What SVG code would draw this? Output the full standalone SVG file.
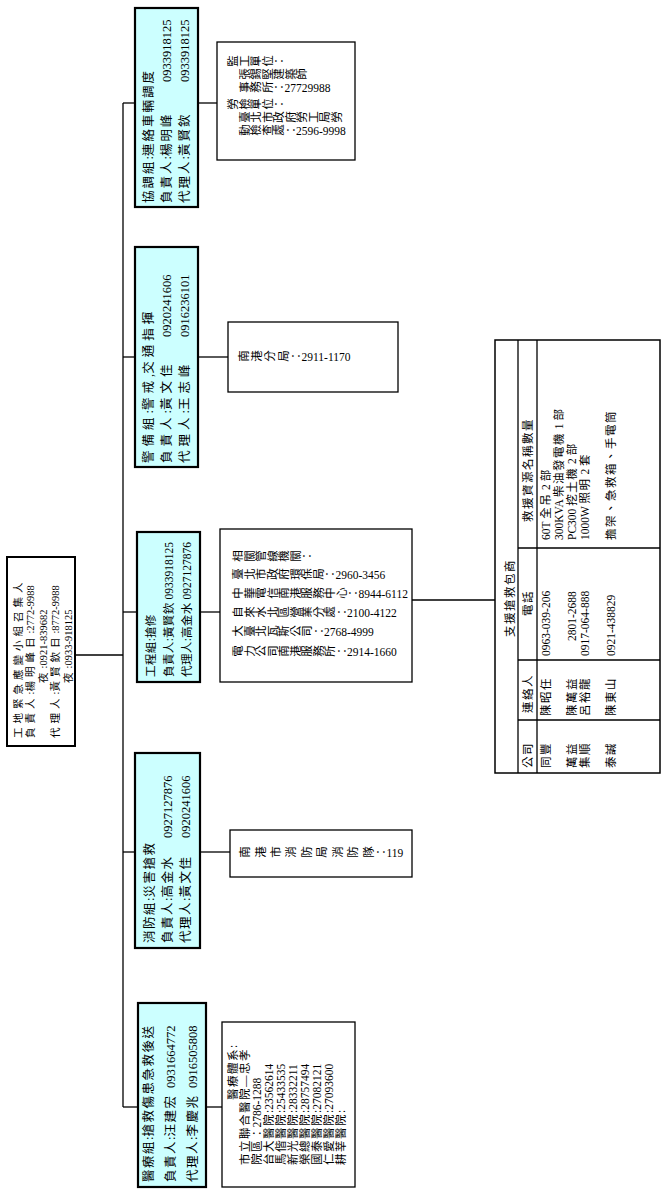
<svg xmlns="http://www.w3.org/2000/svg" width="666" height="1194" viewBox="0 0 666 1194">
<style>
text{font-family:"Liberation Serif","Noto Sans CJK TC",serif;font-size:12.5px;fill:#000}
.c{letter-spacing:1.5px}
.r{font-size:10.5px}
.r .c{letter-spacing:4px}
.w2 .c{letter-spacing:2px}
.w4 .c{letter-spacing:4px}
.w0{font-size:11.5px}
.w0 .c{letter-spacing:0.4px}
.s{font-size:11.5px}
.v{writing-mode:vertical-rl;font-size:11.5px}
.grp{fill:#ccffff;stroke:#000;stroke-width:2.2}
.box{fill:#fff;stroke:#000;stroke-width:1.3}
.ln{stroke:#000;stroke-width:1.3;fill:none}
</style>
<rect width="666" height="1194" fill="#fff"/>
<g id="connectors" class="ln">
<line x1="75" y1="655" x2="123" y2="655"/>
<line x1="123" y1="103" x2="123" y2="1107"/>
<line x1="123" y1="103" x2="135" y2="103"/>
<line x1="123" y1="357" x2="135" y2="357"/>
<line x1="123" y1="612" x2="137" y2="612"/>
<line x1="123" y1="852" x2="135" y2="852"/>
<line x1="123" y1="1107" x2="138" y2="1107"/>
<line x1="198" y1="103" x2="217" y2="103"/>
<line x1="198" y1="357" x2="228" y2="357"/>
<line x1="200" y1="612" x2="220" y2="612"/>
<line x1="200" y1="852" x2="230" y2="852"/>
<line x1="206" y1="1107" x2="222" y2="1107"/>
<line x1="412" y1="600" x2="495" y2="600"/>
</g>
<g id="root">
<rect class="box" x="7" y="557" width="68" height="189" style="stroke-width:2"/>
<text class="r" transform="translate(21.5 738) rotate(-90)"><tspan class="c">工地緊急應變小組召集人</tspan></text>
<text class="r" transform="translate(34 738) rotate(-90)"><tspan class="c">負責人</tspan>:<tspan class="c">楊明峰日</tspan>:2772-9988</text>
<text class="r" transform="translate(46.5 683) rotate(-90)"><tspan class="c">夜</tspan>:0921-839682</text>
<text class="r" transform="translate(59 738) rotate(-90)"><tspan class="c">代理人</tspan>:<tspan class="c">黃賢欽日</tspan>:8772-9988</text>
<text class="r" transform="translate(71.5 683) rotate(-90)"><tspan class="c">夜</tspan>:0933-918125</text>
</g>
<g id="g-coord" class="w2">
<rect class="grp" x="135" y="8" width="63" height="199"/>
<text transform="translate(152.5 203) rotate(-90)"><tspan class="c">協調組</tspan>:<tspan class="c">連絡車輛調度</tspan></text>
<text transform="translate(170.5 203) rotate(-90)"><tspan class="c">負責人</tspan>:<tspan class="c">楊明峰</tspan></text>
<text transform="translate(170.5 82) rotate(-90)">0933918125</text>
<text transform="translate(188.5 203) rotate(-90)"><tspan class="c">代理人</tspan>:<tspan class="c">黃賢欽</tspan></text>
<text transform="translate(188.5 82) rotate(-90)">0933918125</text>
</g>
<g id="g-guard" class="w4">
<rect class="grp" x="135" y="247" width="63" height="220"/>
<text transform="translate(152.5 463) rotate(-90)"><tspan class="c">警備組</tspan>:<tspan class="c">警戒</tspan>,<tspan class="c">交通指揮</tspan></text>
<text transform="translate(170.5 463) rotate(-90)"><tspan class="c">負責人</tspan>:<tspan class="c">黃文佳</tspan></text>
<text transform="translate(170.5 337) rotate(-90)">0920241606</text>
<text transform="translate(188.5 463) rotate(-90)"><tspan class="c">代理人</tspan>:<tspan class="c">王志峰</tspan></text>
<text transform="translate(188.5 337) rotate(-90)">0916236101</text>
</g>
<g id="g-eng">
<rect class="grp" x="137" y="532" width="63" height="150"/>
<text class="w0" transform="translate(155 677) rotate(-90)"><tspan class="c">工程組</tspan>:<tspan class="c">搶修</tspan></text>
<text class="w0" transform="translate(173 677) rotate(-90)"><tspan class="c">負責人</tspan>:<tspan class="c">黃賢欽</tspan> 0933918125</text>
<text class="w0" transform="translate(191 677) rotate(-90)"><tspan class="c">代理人</tspan>:<tspan class="c">高金水</tspan> 0927127876</text>
</g>
<g id="g-fire">
<rect class="grp" x="135" y="753" width="65" height="195"/>
<text transform="translate(153.5 943) rotate(-90)"><tspan class="c">消防組</tspan>:<tspan class="c">災害搶救</tspan></text>
<text transform="translate(171.5 943) rotate(-90)"><tspan class="c">負責人</tspan>:<tspan class="c">高金水</tspan></text>
<text transform="translate(171.5 838) rotate(-90)">0927127876</text>
<text transform="translate(189.5 943) rotate(-90)"><tspan class="c">代理人</tspan>:<tspan class="c">黃文佳</tspan></text>
<text transform="translate(189.5 838) rotate(-90)">0920241606</text>
</g>
<g id="g-med">
<rect class="grp" x="138" y="1003" width="68" height="184"/>
<text transform="translate(153 1182) rotate(-90)"><tspan class="c">醫療組</tspan>:<tspan class="c">搶救傷患急救後送</tspan></text>
<text transform="translate(175 1182) rotate(-90)"><tspan class="c">負責人</tspan>:<tspan class="c">汪建宏</tspan></text>
<text transform="translate(175 1088) rotate(-90)">0931664772</text>
<text transform="translate(197 1182) rotate(-90)"><tspan class="c">代理人</tspan>:<tspan class="c">李慶兆</tspan></text>
<text transform="translate(197 1088) rotate(-90)">0916505808</text>
</g>
<g id="d-coord">
<rect class="box" x="217" y="42" width="138" height="118"/>
<text class="v" transform="translate(227 62) rotate(-90)">監工單位：</text>
<text class="v" transform="translate(227 75) rotate(-90)">　張錫堅建築師</text>
<text class="v" transform="translate(227 88) rotate(-90)">　事務所：27729988</text>
<text class="v" transform="translate(227 105) rotate(-90)">勞檢單位：</text>
<text class="v" transform="translate(227 118) rotate(-90)">　臺北市政府勞工局勞</text>
<text class="v" transform="translate(227 131) rotate(-90)">　動檢查處：2596-9998</text>
</g>
<g id="d-guard">
<rect class="box" x="228" y="322" width="170" height="70"/>
<text class="v" transform="translate(238 357) rotate(-90)" textLength="51" lengthAdjust="spacing">南港分局</text>
<text class="v" transform="translate(290 357) rotate(-90)">：2911-1170</text>
</g>
<g id="d-eng">
<rect class="box" x="220" y="529" width="192" height="153"/>
<text class="v" transform="translate(232 557) rotate(-90)">相關管線機關：</text>
<text class="v" transform="translate(232 575) rotate(-90)">臺北市政府環保局：2960-3456</text>
<text class="v" transform="translate(232 594) rotate(-90)">中華電信南港服務中心：8944-6112</text>
<text class="v" transform="translate(232 613) rotate(-90)">自來水北區營業分處：2100-4122</text>
<text class="v" transform="translate(232 632) rotate(-90)">大臺北瓦斯公司：2768-4999</text>
<text class="v" transform="translate(232 652) rotate(-90)">電力公司南港服務所：2914-1660</text>
</g>
<g id="d-fire">
<rect class="box" x="230" y="830" width="182" height="47"/>
<text class="v" transform="translate(239 853) rotate(-90)" textLength="135" lengthAdjust="spacing">南港市消防局消防隊</text>
<text class="v" transform="translate(375 853) rotate(-90)">：119</text>
</g>
<g id="d-med">
<rect class="box" x="222" y="1022" width="133" height="165"/>
<text class="s" transform="translate(237 1100) rotate(-90)"><tspan class="c">醫療體系</tspan>:</text>
<text class="s" transform="translate(249 1165) rotate(-90)"><tspan class="c">市立聯合醫院—忠孝</tspan></text>
<text class="s" transform="translate(261 1165) rotate(-90)"><tspan class="c">院區</tspan>：2786-1288</text>
<text class="s" transform="translate(273 1165) rotate(-90)"><tspan class="c">台大醫院</tspan>:23562614</text>
<text class="s" transform="translate(285 1165) rotate(-90)"><tspan class="c">馬偕醫院</tspan>:25433535</text>
<text class="s" transform="translate(297 1165) rotate(-90)"><tspan class="c">新光醫院</tspan>:28332211</text>
<text class="s" transform="translate(309 1165) rotate(-90)"><tspan class="c">榮總醫院</tspan>:28757494</text>
<text class="s" transform="translate(321 1165) rotate(-90)"><tspan class="c">國泰醫院</tspan>:27082121</text>
<text class="s" transform="translate(333 1165) rotate(-90)"><tspan class="c">仁愛醫院</tspan>:27093600</text>
<text class="s" transform="translate(345 1165) rotate(-90)"><tspan class="c">耕莘醫院</tspan>:</text>
</g>
<g id="table">
<rect class="box" x="495" y="340" width="165" height="433" style="stroke-width:1.5"/>
<g class="ln">
<line x1="518" y1="340" x2="518" y2="773"/>
<line x1="537" y1="340" x2="537" y2="773"/>
<line x1="518" y1="720" x2="660" y2="720"/>
<line x1="518" y1="660" x2="660" y2="660"/>
<line x1="518" y1="548" x2="660" y2="548"/>
</g>
<text class="s" transform="translate(514 598) rotate(-90)" text-anchor="middle"><tspan class="c">支援搶救包商</tspan></text>
<text class="s" transform="translate(532 768) rotate(-90)"><tspan class="c">公司</tspan></text>
<text class="s" transform="translate(532 713) rotate(-90)"><tspan class="c">連絡人</tspan></text>
<text class="s" transform="translate(532 616) rotate(-90)"><tspan class="c">電話</tspan></text>
<text class="s" transform="translate(532 522) rotate(-90)"><tspan class="c">救援資源名稱數量</tspan></text>
<text class="s" transform="translate(550 768) rotate(-90)"><tspan class="c">同豐</tspan></text>
<text class="s" transform="translate(550 716) rotate(-90)"><tspan class="c">陳昭任</tspan></text>
<text class="s" transform="translate(550 656) rotate(-90)">0963-039-206</text>
<text class="s" transform="translate(550 540) rotate(-90)">60T <tspan class="c">全吊</tspan> 2 <tspan class="c">部</tspan></text>
<text class="s" transform="translate(563 540) rotate(-90)">300KVA <tspan class="c">柴油發電機</tspan> 1 <tspan class="c">部</tspan></text>
<text class="s" transform="translate(576 768) rotate(-90)"><tspan class="c">萬益</tspan></text>
<text class="s" transform="translate(576 716) rotate(-90)"><tspan class="c">陳萬益</tspan></text>
<text class="s" transform="translate(576 641) rotate(-90)">2801-2688</text>
<text class="s" transform="translate(576 540) rotate(-90)">PC300 <tspan class="c">挖土機</tspan> 2 <tspan class="c">部</tspan></text>
<text class="s" transform="translate(589 768) rotate(-90)"><tspan class="c">集順</tspan></text>
<text class="s" transform="translate(589 716) rotate(-90)"><tspan class="c">呂裕龍</tspan></text>
<text class="s" transform="translate(589 656) rotate(-90)">0917-064-888</text>
<text class="s" transform="translate(589 540) rotate(-90)">1000W <tspan class="c">照明</tspan> 2 <tspan class="c">套</tspan></text>
<text class="s" transform="translate(615 768) rotate(-90)"><tspan class="c">泰誠</tspan></text>
<text class="s" transform="translate(615 716) rotate(-90)"><tspan class="c">陳東山</tspan></text>
<text class="s" transform="translate(615 656) rotate(-90)">0921-438829</text>
<text class="s" transform="translate(615 540) rotate(-90)"><tspan class="c">擔架、急救箱、手電筒</tspan></text>
</g>
</svg>
